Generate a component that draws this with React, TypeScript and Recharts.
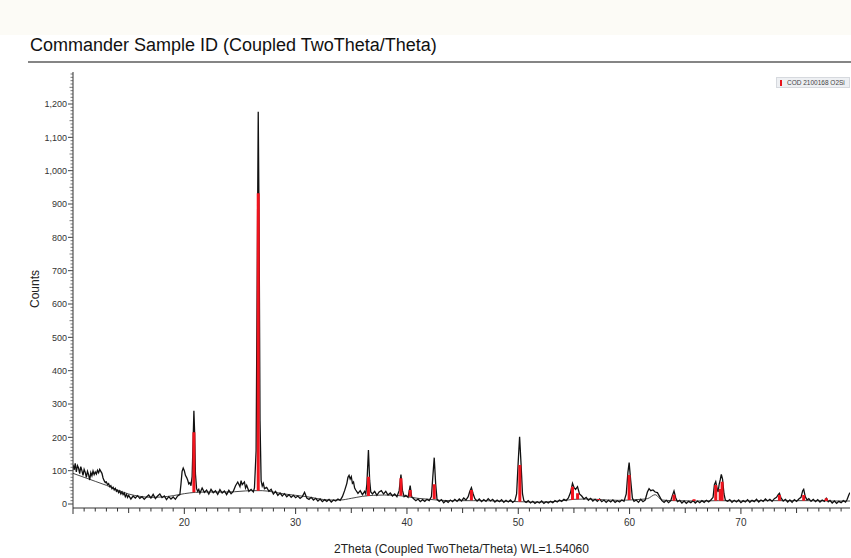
import { ComposedChart, Line, XAxis, YAxis, Label } from 'recharts';

// measured scan: [2theta, counts]
const scan: [number, number][] = [
  [10.0, 118], [10.1, 102], [10.2, 122], [10.3, 96], [10.4, 115], [10.5, 108], [10.6, 91], [10.7, 112],
  [10.8, 100], [10.9, 86], [11.0, 104], [11.1, 95], [11.2, 80], [11.3, 98], [11.4, 88], [11.5, 72],
  [11.6, 94], [11.7, 85], [11.8, 99], [11.9, 88], [12.0, 96], [12.1, 90], [12.2, 101], [12.3, 94],
  [12.4, 104], [12.5, 98], [12.6, 92], [12.7, 78], [12.8, 70], [12.9, 64], [13.0, 66], [13.1, 58],
  [13.2, 61], [13.3, 52], [13.4, 55], [13.5, 46], [13.6, 50], [13.7, 42], [13.8, 47], [13.9, 38],
  [14.0, 41], [14.1, 34], [14.2, 39], [14.3, 30], [14.4, 36], [14.5, 28], [14.6, 33], [14.7, 22],
  [14.8, 29], [14.9, 20], [15.0, 26], [15.2, 15], [15.4, 24], [15.6, 18], [15.8, 25], [16.0, 17],
  [16.2, 22], [16.4, 14], [16.6, 21], [16.8, 27], [17.0, 18], [17.2, 29], [17.4, 16], [17.6, 24],
  [17.8, 30], [18.0, 19], [18.2, 24], [18.4, 13], [18.6, 22], [18.8, 15], [19.0, 21], [19.2, 14],
  [19.4, 24], [19.6, 28], [19.7, 60], [19.8, 98], [19.9, 108], [20.0, 100], [20.1, 86], [20.2, 80],
  [20.3, 72], [20.4, 60], [20.5, 64], [20.6, 55], [20.7, 82], [20.8, 200], [20.86, 280], [20.93, 210],
  [21.0, 90], [21.1, 46], [21.2, 38], [21.3, 44], [21.4, 32], [21.6, 48], [21.8, 35], [22.0, 42],
  [22.2, 30], [22.4, 44], [22.6, 34], [22.8, 40], [23.0, 29], [23.2, 43], [23.4, 33], [23.6, 39],
  [23.8, 28], [24.0, 41], [24.2, 31], [24.4, 38], [24.6, 55], [24.8, 66], [25.0, 52], [25.1, 70],
  [25.2, 58], [25.4, 66], [25.5, 48], [25.6, 56], [25.8, 38], [26.0, 44], [26.2, 36], [26.3, 48],
  [26.45, 160], [26.55, 700], [26.64, 1177], [26.72, 820], [26.8, 250], [26.9, 70], [27.0, 54], [27.1, 62],
  [27.2, 46], [27.4, 50], [27.6, 38], [27.8, 44], [28.0, 30], [28.2, 38], [28.4, 26], [28.6, 33],
  [28.8, 24], [29.0, 31], [29.2, 22], [29.4, 28], [29.6, 20], [29.8, 26], [30.0, 19], [30.2, 24],
  [30.4, 17], [30.6, 22], [30.8, 35], [31.0, 18], [31.2, 14], [31.4, 20], [31.6, 12], [31.8, 17],
  [32.0, 9], [32.2, 15], [32.4, 7], [32.6, 13], [32.8, 8], [33.0, 14], [33.2, 6], [33.4, 12],
  [33.6, 9], [33.8, 15], [34.0, 11], [34.2, 22], [34.4, 40], [34.6, 62], [34.7, 80], [34.8, 86],
  [34.9, 75], [35.0, 82], [35.1, 62], [35.2, 66], [35.3, 48], [35.4, 42], [35.6, 32], [35.8, 40],
  [36.0, 28], [36.2, 38], [36.3, 30], [36.4, 60], [36.54, 162], [36.65, 70], [36.75, 36], [36.9, 30],
  [37.1, 38], [37.3, 26], [37.5, 36], [37.7, 40], [37.9, 30], [38.1, 38], [38.3, 27], [38.5, 33],
  [38.7, 24], [38.9, 30], [39.1, 22], [39.3, 40], [39.46, 88], [39.6, 40], [39.75, 22], [39.9, 26],
  [40.1, 20], [40.29, 55], [40.42, 22], [40.6, 16], [40.8, 10], [41.0, 15], [41.2, 7], [41.4, 13],
  [41.6, 8], [41.8, 14], [42.0, 10], [42.2, 22], [42.32, 80], [42.45, 139], [42.58, 60], [42.7, 14],
  [42.9, 8], [43.1, 13], [43.3, 4], [43.5, 10], [43.7, 5], [43.9, 12], [44.1, 7], [44.3, 14],
  [44.5, 8], [44.7, 15], [44.9, 9], [45.1, 18], [45.3, 12], [45.5, 22], [45.65, 38], [45.79, 49],
  [45.95, 30], [46.1, 16], [46.3, 9], [46.5, 15], [46.7, 7], [46.9, 13], [47.1, 8], [47.3, 16],
  [47.5, 9], [47.7, 14], [47.9, 6], [48.1, 12], [48.3, 7], [48.5, 13], [48.7, 5], [48.9, 11],
  [49.1, 6], [49.3, 12], [49.5, 5], [49.7, 10], [49.85, 30], [50.0, 130], [50.12, 202], [50.25, 120],
  [50.38, 30], [50.5, 10], [50.7, 5], [50.9, 10], [51.1, 3], [51.3, 8], [51.5, 2], [51.7, 7],
  [51.9, 3], [52.1, 9], [52.3, 2], [52.5, 7], [52.7, 3], [52.9, 8], [53.1, 4], [53.3, 10],
  [53.5, 6], [53.7, 12], [53.9, 8], [54.1, 14], [54.3, 10], [54.5, 18], [54.7, 35], [54.87, 62],
  [55.0, 50], [55.15, 44], [55.32, 52], [55.5, 30], [55.7, 24], [55.9, 15], [56.1, 20], [56.3, 11],
  [56.5, 17], [56.7, 9], [56.9, 14], [57.1, 8], [57.3, 15], [57.5, 7], [57.7, 12], [57.9, 5],
  [58.1, 11], [58.3, 6], [58.5, 12], [58.7, 5], [58.9, 10], [59.1, 6], [59.3, 12], [59.5, 8],
  [59.7, 30], [59.85, 95], [59.96, 124], [60.1, 70], [60.25, 18], [60.4, 8], [60.6, 12], [60.8, 5],
  [61.0, 14], [61.2, 7], [61.4, 12], [61.6, 36], [61.75, 46], [61.9, 40], [62.1, 42], [62.3, 36],
  [62.5, 34], [62.7, 22], [62.9, 10], [63.1, 5], [63.3, 11], [63.5, 4], [63.7, 10], [63.85, 26],
  [63.99, 39], [64.15, 18], [64.3, 7], [64.5, 11], [64.7, 3], [64.9, 9], [65.1, 2], [65.3, 8],
  [65.5, 4], [65.7, 10], [65.9, 3], [66.1, 9], [66.3, 4], [66.5, 10], [66.7, 5], [66.9, 11],
  [67.1, 6], [67.3, 12], [67.5, 20], [67.62, 58], [67.74, 67], [67.85, 48], [67.95, 36], [68.05, 60],
  [68.14, 72], [68.24, 89], [68.35, 75], [68.48, 30], [68.6, 12], [68.8, 8], [69.0, 13], [69.2, 5],
  [69.4, 11], [69.6, 6], [69.8, 12], [70.0, 4], [70.2, 10], [70.4, 6], [70.6, 13], [70.8, 5],
  [71.0, 11], [71.2, 7], [71.4, 14], [71.6, 6], [71.8, 12], [72.0, 8], [72.2, 15], [72.4, 9],
  [72.6, 14], [72.8, 8], [73.0, 16], [73.2, 20], [73.35, 28], [73.46, 32], [73.6, 18], [73.8, 9],
  [74.0, 14], [74.2, 6], [74.4, 12], [74.6, 5], [74.8, 13], [75.0, 8], [75.2, 15], [75.4, 20],
  [75.55, 40], [75.64, 44], [75.78, 22], [75.95, 12], [76.1, 16], [76.3, 8], [76.5, 14], [76.7, 7],
  [76.9, 13], [77.1, 6], [77.3, 12], [77.5, 8], [77.67, 17], [77.85, 7], [78.0, 11], [78.2, 3],
  [78.4, 9], [78.6, 2], [78.8, 8], [79.0, 4], [79.2, 10], [79.4, 6], [79.55, 14], [79.7, 28],
  [79.8, 34],
];

// fitted background curve
const background: [number, number][] = [
  [10, 92], [11, 80], [12, 68], [13, 56], [14, 42], [15, 30], [16, 23], [17, 20], [18, 21], [19, 25],
  [20, 31], [21, 35], [22, 36], [23, 36], [24, 36], [25, 38], [26, 40], [27, 40], [28, 36], [29, 30],
  [30, 26], [31, 22], [32, 16], [33, 12], [34, 12], [35, 17], [36, 23], [37, 26], [38, 27], [39, 26],
  [40, 22], [41, 17], [42, 14], [43, 11], [44, 10], [45, 10], [46, 10], [47, 10], [48, 9], [49, 8],
  [50, 7], [51, 6], [52, 6], [53, 7], [54, 10], [55, 14], [56, 15], [57, 14], [58, 12], [59, 11],
  [60, 12], [61, 14], [61.6, 16], [62.3, 28], [62.9, 12], [64, 10], [66, 9], [68, 10], [70, 9],
  [72, 10], [74, 10], [76, 10], [78, 9], [79.8, 9],
];

// COD 2100168 O2Si reference lines
const stickPos = [20.86, 26.64, 36.54, 39.46, 40.29, 42.45, 45.79, 50.14, 54.87, 55.33, 57.23, 59.96, 63.99, 65.79, 67.74, 68.14, 68.31, 73.46, 75.64, 77.67];
const stickBase = [35, 40, 24, 25, 22, 15, 11, 7, 12, 14, 12, 12, 10, 9, 10, 10, 10, 10, 10, 9];
const stickTop = [215, 932, 82, 77, 42, 59, 42, 117, 52, 32, 15, 87, 28, 14, 57, 45, 67, 27, 27, 17];

const xTicks = Array.from({ length: 70 }, (_, i) => 10 + i);
const yTicks = Array.from({ length: 130 }, (_, i) => i * 10);

const scanData = scan.map(([x, y]) => ({ x, y }));
const bgData = background.map(([x, bg]) => ({ x, bg }));
const stickData = stickPos.flatMap((x, i) => [
  { x, r: stickBase[i] },
  { x, r: stickTop[i] },
  { x, r: null },
]);

const FONT = '"Liberation Sans", Arial, sans-serif';

const XTick = (props: any) => {
  const { x, y, payload } = props;
  const v = payload.value;
  const len = v % 10 === 0 ? 6 : v % 5 === 0 ? 5 : 3.5;
  return (
    <g>
      <line x1={x} x2={x} y1={y} y2={y + len} stroke="#333" strokeWidth={1} />
      {v % 10 === 0 && v >= 20 && (
        <text x={x} y={y + 18} textAnchor="middle" fontSize={10} fill="#333" fontFamily={FONT}>{v}</text>
      )}
    </g>
  );
};

const YTick = (props: any) => {
  const { x, y, payload } = props;
  const v = payload.value;
  const major = v % 100 === 0;
  return (
    <g>
      <line x1={x - (major ? 5 : v % 50 === 0 ? 3.5 : 2.5)} x2={x} y1={y} y2={y} stroke="#444" strokeWidth={major ? 1 : 0.7} />
      {major && (
        <text x={x - 6} y={y + 3.3} textAnchor="end" fontSize={9} fill="#333" fontFamily={FONT}>
          {v.toLocaleString('en-US')}
        </text>
      )}
    </g>
  );
};

export default function App() {
  return (
    <div style={{ position: 'absolute', left: 0, top: 0, width: 851, height: 558, overflow: 'hidden', background: '#fff', fontFamily: FONT }}>
      <div style={{ position: 'absolute', left: 0, top: 0, width: 851, height: 35, background: '#fcfbf6' }} />
      <div style={{ position: 'absolute', left: 30, top: 35, fontSize: 18, color: '#111', whiteSpace: 'nowrap' }}>
        Commander Sample ID (Coupled TwoTheta/Theta)
      </div>
      <div style={{ position: 'absolute', left: 28, top: 61, width: 823, height: 2, background: '#858585' }} />
      <div style={{ position: 'absolute', left: 776, top: 77, width: 72, height: 9, background: '#eef0f3', border: '1px solid #d6d9de', display: 'flex', alignItems: 'center', fontSize: 6.5, color: '#444', whiteSpace: 'nowrap' }}>
        <span style={{ display: 'inline-block', width: 2, height: 6, background: '#e8141c', marginLeft: 3, marginRight: 5 }} />
        COD 2100168 O2Si
      </div>
      <div style={{ position: 'absolute', left: 0, top: 0 }}>
        <ComposedChart width={851} height={558} margin={{ top: 72, right: 1, left: 0, bottom: 0 }}>
          <XAxis
            dataKey="x"
            type="number"
            domain={[10, 79.8]}
            ticks={xTicks}
            interval={0}
            height={50}
            tickSize={0}
            tickMargin={0}
            tickLine={false}
            tick={<XTick />}
            axisLine={{ stroke: '#333', strokeWidth: 1 }}
            allowDataOverflow
          >
            <Label value="2Theta (Coupled TwoTheta/Theta) WL=1.54060" position="insideBottom" offset={5} fontSize={12} fill="#222" fontFamily={FONT} />
          </XAxis>
          <YAxis
            type="number"
            domain={[-12, 1296]}
            ticks={yTicks}
            interval={0}
            width={73}
            tickSize={0}
            tickMargin={0}
            tickLine={false}
            tick={<YTick />}
            axisLine={{ stroke: '#333', strokeWidth: 1 }}
            allowDataOverflow
          >
            <Label
              content={() => (
                <text transform="translate(39,289) rotate(-90)" textAnchor="middle" fontSize={12} fill="#222" fontFamily={FONT}>Counts</text>
              )}
            />
          </YAxis>
          <Line data={bgData} dataKey="bg" type="monotone" stroke="#333" strokeWidth={0.9} dot={false} isAnimationActive={false} />
          <Line data={scanData} dataKey="y" type="linear" stroke="#111" strokeWidth={1.3} dot={false} isAnimationActive={false} />
          <Line data={stickData} dataKey="r" type="linear" stroke="#f0141e" strokeWidth={3} dot={false} isAnimationActive={false} />
        </ComposedChart>
      </div>
    </div>
  );
}
